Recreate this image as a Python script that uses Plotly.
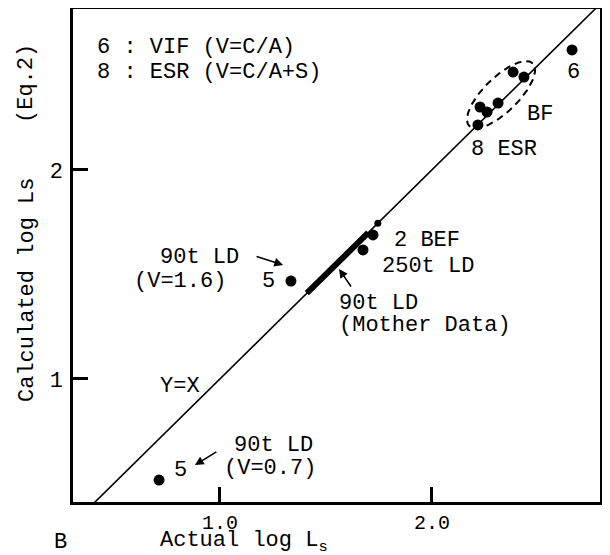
import numpy as np
import plotly.graph_objects as go

# ---- data ----
vif_x = [2.661]                      # 6 : VIF
vif_y = [2.574]
bf_x = [2.383, 2.434, 2.312, 2.227, 2.260]   # BF cluster
bf_y = [2.468, 2.444, 2.320, 2.301, 2.277]
esr_x = [2.217]                      # 8 ESR
esr_y = [2.215]
bef_x = [1.722, 1.675]               # 2 BEF / 250t LD
bef_y = [1.689, 1.617]
ld16_x = [1.335]                     # 90t LD (V=1.6)
ld16_y = [1.468]
ld07_x = [0.713]                     # 90t LD (V=0.7)
ld07_y = [0.516]
mother_x = [1.41, 1.70]              # 90t LD (Mother Data) band on Y=X
mother_end_x = [1.745]
identity_x = [0.2, 3.0]              # Y=X

x_ticks = [1.0, 2.0]
x_ticklabels = ["1.0", "2.0"]
y_ticks = [1, 2]
y_ticklabels = ["1", "2"]

# BF ellipse parameters (data units)
ell_cx, ell_cy, ell_a, ell_b, ell_ang = 2.326, 2.360, 0.212, 0.082, 45.0

FONT = "Liberation Mono"
FS = 22
BLACK = "black"

fig = go.Figure()

# Y = X line
fig.add_trace(go.Scatter(x=identity_x, y=identity_x, mode="lines",
                         line=dict(color=BLACK, width=1.6), hoverinfo="skip"))
# mother data band
fig.add_trace(go.Scatter(x=mother_x, y=mother_x, mode="lines",
                         line=dict(color=BLACK, width=6), hoverinfo="skip"))
fig.add_trace(go.Scatter(x=mother_end_x, y=mother_end_x, mode="markers",
                         marker=dict(color=BLACK, size=7), hoverinfo="skip"))

# ellipse around BF
t = np.linspace(0, 2 * np.pi, 200)
th = np.deg2rad(ell_ang)
ex = ell_cx + ell_a * np.cos(t) * np.cos(th) - ell_b * np.sin(t) * np.sin(th)
ey = ell_cy + ell_a * np.cos(t) * np.sin(th) + ell_b * np.sin(t) * np.cos(th)
fig.add_trace(go.Scatter(x=ex, y=ey, mode="lines",
                         line=dict(color=BLACK, width=2, dash="7px,5px"), hoverinfo="skip"))

for xs, ys in [(vif_x, vif_y), (bf_x, bf_y), (esr_x, esr_y), (bef_x, bef_y),
               (ld16_x, ld16_y), (ld07_x, ld07_y)]:
    fig.add_trace(go.Scatter(x=xs, y=ys, mode="markers",
                             marker=dict(color=BLACK, size=11), hoverinfo="skip"))

font = dict(family=FONT, size=FS, color=BLACK)

def txt(x, y, s, anchor="center"):
    fig.add_annotation(x=x, y=y, text=s, showarrow=False, xanchor=anchor,
                       yanchor="middle", font=font)

def arrow(x, y, ax, ay):
    fig.add_annotation(x=x, y=y, ax=ax, ay=ay, text="", showarrow=True,
                       arrowhead=2, arrowsize=1.1, arrowwidth=1.6, arrowcolor=BLACK)

txt(0.410, 2.585, "6 : VIF (V=C/A)", "left")
txt(0.410, 2.465, "8 : ESR (V=C/A+S)", "left")
txt(2.666, 2.464, "6")
txt(2.510, 2.267, "BF")
txt(2.340, 2.100, "8 ESR")
txt(1.812, 1.660, "2 BEF", "left")
txt(1.755, 1.540, "250t LD", "left")
txt(1.552, 1.363, "90t LD", "left")
txt(1.552, 1.255, "(Mother Data)", "left")
arrow(1.562, 1.526, 13, 19)
txt(0.708, 1.583, "90t LD", "left")
txt(0.585, 1.468, "(V=1.6)", "left")
txt(1.227, 1.468, "5")
arrow(1.298, 1.545, -28, -9)
txt(0.812, 0.966, "Y=X")
txt(1.057, 0.679, "90t LD", "left")
txt(1.010, 0.569, "(V=0.7)", "left")
txt(0.812, 0.564, "5")
arrow(0.882, 0.588, 23, -14)

# the page body keeps the browser's default 8px margin: size the figure to fit
OFF = 8
W, H = 610 - OFF, 555 - OFF
ml, mr, mt, mb = 73 - OFF, 10, 1, 53
pw, ph = W - ml - mr, H - mt - mb

def paper(px, py):
    # px, py are window pixel positions
    return (px - OFF - ml) / pw, (H - mb - (py - OFF)) / ph

bx, by = paper(60, 542)
fig.add_annotation(x=bx, y=by, xref="paper", yref="paper", text="B", showarrow=False,
                   xanchor="center", yanchor="middle", font=font)
tx, ty = paper(158, 542)
fig.add_annotation(x=tx, y=ty, xref="paper", yref="paper", text="Actual log L<sub>s</sub>",
                   showarrow=False, xanchor="left", yanchor="middle", font=font)
yx, yy = paper(27, 290)
fig.add_annotation(x=yx, y=yy, xref="paper", yref="paper", text="Calculated log Ls",
                   showarrow=False, textangle=-90, xanchor="center", yanchor="middle", font=font)
ex2, ey2 = paper(27, 84)
fig.add_annotation(x=ex2, y=ey2, xref="paper", yref="paper", text="(Eq.2)",
                   showarrow=False, textangle=-90, xanchor="center", yanchor="middle", font=font)

axis_common = dict(showgrid=False, zeroline=False, showline=True, linecolor=BLACK,
                   linewidth=2.5, mirror=True, ticks="inside", ticklen=15,
                   tickwidth=2.5, tickcolor=BLACK, automargin=False)

fig.update_xaxes(range=[0.307, 0.307 + pw / 212], tickvals=x_ticks, ticktext=x_ticklabels,
                 tickfont=dict(family=FONT, size=20, color=BLACK), **axis_common)
fig.update_yaxes(range=[0.411, 0.411 + ph / 209], tickvals=y_ticks, ticktext=y_ticklabels,
                 tickfont=font, ticklabelstandoff=3, **axis_common)

fig.update_layout(width=W, height=H, margin=dict(l=ml, r=mr, t=mt, b=mb, autoexpand=False),
                  paper_bgcolor="white", plot_bgcolor="white", showlegend=False,
                  font=font)

fig.write_html("out.html")
